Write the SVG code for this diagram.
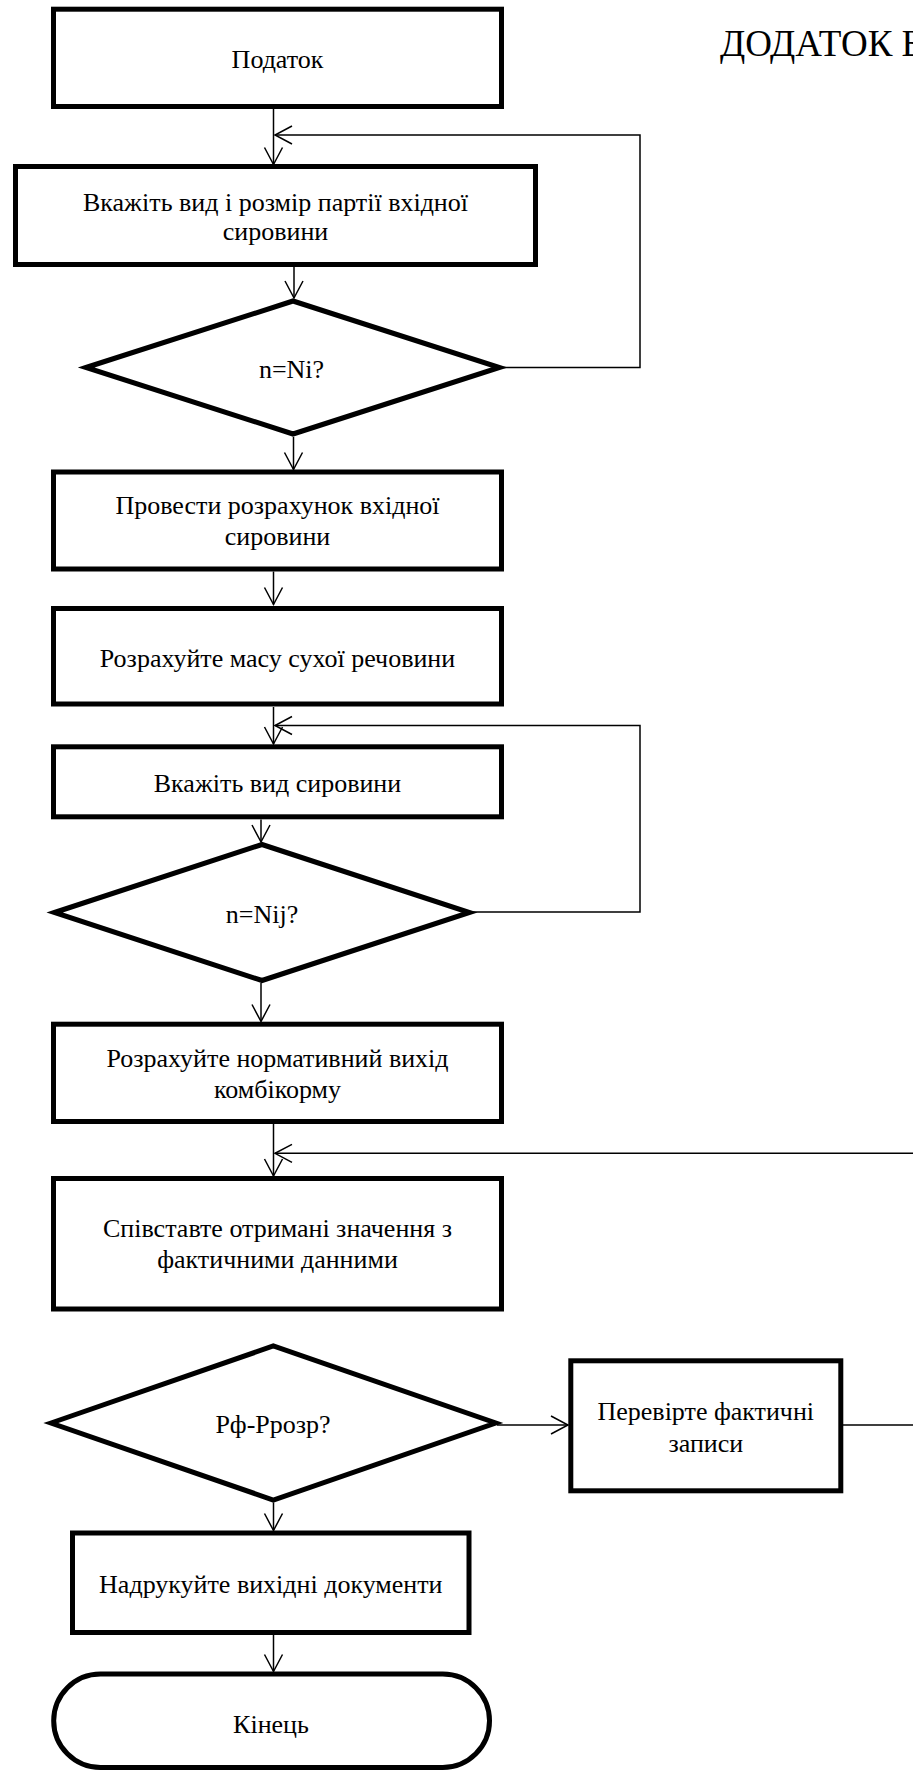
<svg xmlns="http://www.w3.org/2000/svg" width="913" height="1771" viewBox="0 0 913 1771">
  <style>
    .box { fill: #ffffff; stroke: #000000; stroke-width: 5; stroke-linejoin: miter; }
    .lbl { font-family: "Liberation Serif", "Times New Roman", serif; font-size: 26px; fill: #000000; text-anchor: middle; }
    .title { font-family: "Liberation Serif", "Times New Roman", serif; font-size: 37px; fill: #000000; }
    .wire { fill: none; stroke: #000000; stroke-width: 1.5; }
    .arrow { marker-end: url(#open-arrow); }
  </style>
  <defs>
    <marker id="open-arrow" markerUnits="userSpaceOnUse" markerWidth="24" markerHeight="24" refX="0" refY="0" viewBox="-20 -12 24 24" orient="auto" overflow="visible">
      <path d="M-17,-9 L0,0 L-17,9" fill="none" stroke="#000000" stroke-width="1.5"/>
    </marker>
  </defs>
  <rect width="913" height="1771" fill="#ffffff"/>

  <text class="title" x="720" y="56">ДОДАТОК Б</text>

  <!-- connectors -->
  <g id="connectors">
    <path class="wire arrow" d="M273.5,109 V164.5"/>
    <path class="wire arrow" d="M500,367.5 H640 V135 H275"/>
    <path class="wire arrow" d="M294,267 V298"/>
    <path class="wire arrow" d="M293.5,437 V469.5"/>
    <path class="wire arrow" d="M273.5,571.5 V604.5"/>
    <path class="wire arrow" d="M273.5,707 V744"/>
    <path class="wire arrow" d="M470,912 H640 V725.5 H275"/>
    <path class="wire arrow" d="M261,819.5 V842"/>
    <path class="wire arrow" d="M261,983 V1021.5"/>
    <path class="wire arrow" d="M273.5,1124 V1176"/>
    <path class="wire arrow" d="M843,1425 H930 V1153.3 H275"/>
    <path class="wire arrow" d="M497,1425 H568"/>
    <path class="wire arrow" d="M273.5,1502.5 V1530.5"/>
    <path class="wire arrow" d="M273.5,1635 V1671.5"/>
  </g>

  <g id="start">
    <rect class="box" x="53.5" y="9.2" width="448" height="97.3"/>
    <text class="lbl" x="277.5" y="68">Податок</text>
  </g>

  <g id="input-batch">
    <rect class="box" x="15.5" y="166.5" width="520" height="98"/>
    <text class="lbl" x="275.5" y="211">Вкажіть вид і розмір партії вхідної</text>
    <text class="lbl" x="275.5" y="240">сировини</text>
  </g>

  <g id="check-ni">
    <polygon class="box" points="86,367.5 293,301 499.5,367.5 293,434"/>
    <text class="lbl" x="291.5" y="378">n=Ni?</text>
  </g>

  <g id="calc-input">
    <rect class="box" x="53.5" y="472" width="448" height="97"/>
    <text class="lbl" x="277.5" y="513.5">Провести розрахунок вхідної</text>
    <text class="lbl" x="277.5" y="544.5">сировини</text>
  </g>

  <g id="calc-dry-mass">
    <rect class="box" x="53.5" y="608.5" width="448" height="95.5"/>
    <text class="lbl" x="277.5" y="667">Розрахуйте масу сухої речовини</text>
  </g>

  <g id="input-kind">
    <rect class="box" x="53.5" y="746.8" width="448" height="70"/>
    <text class="lbl" x="277.5" y="791.5">Вкажіть вид сировини</text>
  </g>

  <g id="check-nij">
    <polygon class="box" points="54.5,912.5 262,844.5 469.5,912.5 262,980.5"/>
    <text class="lbl" x="262" y="923">n=Nij?</text>
  </g>

  <g id="calc-norm">
    <rect class="box" x="53.5" y="1024.2" width="448" height="97.3"/>
    <text class="lbl" x="277.5" y="1067">Розрахуйте нормативний вихід</text>
    <text class="lbl" x="277.5" y="1097.5">комбікорму</text>
  </g>

  <g id="compare">
    <rect class="box" x="53.5" y="1178.5" width="448" height="130.5"/>
    <text class="lbl" x="277.5" y="1237">Співставте отримані значення з</text>
    <text class="lbl" x="277.5" y="1268">фактичними данними</text>
  </g>

  <g id="check-p">
    <polygon class="box" points="51,1423 273.3,1346 495.7,1423 273.3,1500"/>
    <text class="lbl" x="273" y="1433">&#1056;&#1092;-&#1056;&#1088;&#1086;&#1079;&#1088;?</text>
  </g>

  <g id="verify-records">
    <rect class="box" x="570.8" y="1360.8" width="270" height="130"/>
    <text class="lbl" x="705.8" y="1420">Перевірте фактичні</text>
    <text class="lbl" x="705.8" y="1451.5">записи</text>
  </g>

  <g id="print-docs">
    <rect class="box" x="72.5" y="1533" width="396.5" height="99.5"/>
    <text class="lbl" x="270.8" y="1593">Надрукуйте вихідні документи</text>
  </g>

  <g id="end">
    <rect class="box" x="53.7" y="1674" width="435.8" height="93.5" rx="46.75" ry="46.75"/>
    <text class="lbl" x="271" y="1733">Кінець</text>
  </g>
</svg>
